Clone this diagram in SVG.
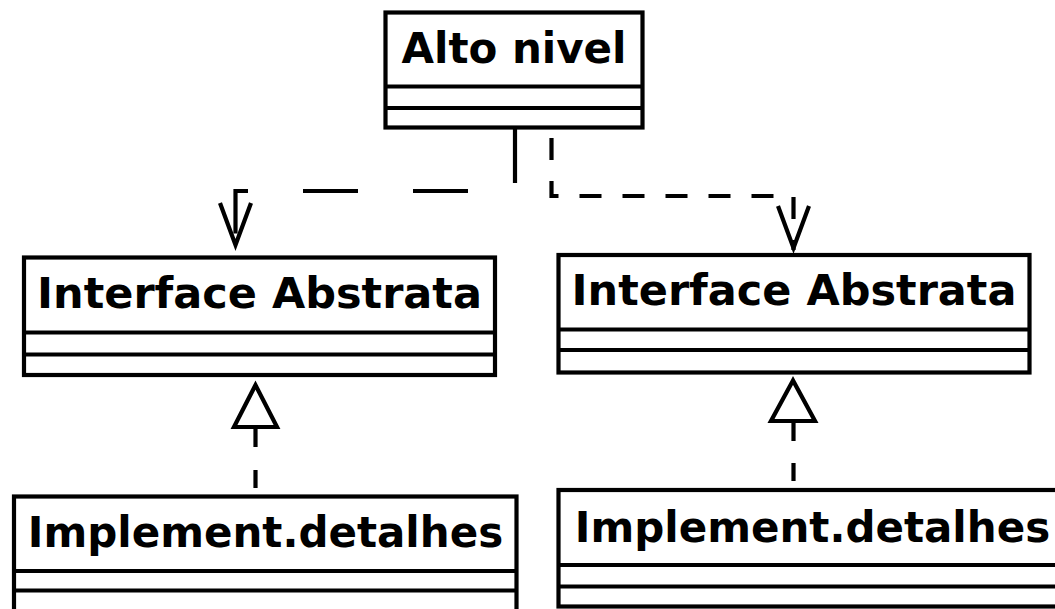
<svg xmlns="http://www.w3.org/2000/svg" width="1055" height="609" viewBox="0 0 1055 609">
  <defs>
    <style>
      .box { fill: #ffffff; stroke: #000000; stroke-width: 4.2; }
      .div { stroke: #000000; stroke-width: 4.2; fill: none; }
      .label { font-family: "DejaVu Sans", "Liberation Sans", sans-serif; font-weight: bold; fill: #000000; }
      .edge { fill: none; stroke: #000000; stroke-width: 4.2; }
      .tri { fill: #ffffff; stroke: #000000; stroke-width: 4.2; stroke-linejoin: miter; }
    </style>
    <!-- open "V" head for dependency arrows -->
    <marker id="openArrow" markerUnits="userSpaceOnUse" markerWidth="60" markerHeight="40" refX="0" refY="0" orient="auto" overflow="visible">
      <path d="M-44,-15.5 L-2,0 L-44,15.5" fill="none" stroke="#000000" stroke-width="4.2" stroke-linejoin="miter"/>
    </marker>
  </defs>

  <rect width="1055" height="609" fill="#ffffff"/>

  <!-- classes -->
  <g id="alto-nivel">
    <rect class="box" x="385.5" y="12.5" width="257" height="115"/>
    <line class="div" x1="385.5" y1="86.5" x2="642.5" y2="86.5"/>
    <line class="div" x1="385.5" y1="108" x2="642.5" y2="108"/>
    <text class="label" x="514" y="63" font-size="42" text-anchor="middle">Alto nivel</text>
  </g>

  <g id="interface-esq">
    <rect class="box" x="24" y="257.5" width="471" height="117.5"/>
    <line class="div" x1="24" y1="332.5" x2="495" y2="332.5"/>
    <line class="div" x1="24" y1="354.5" x2="495" y2="354.5"/>
    <text class="label" x="259.5" y="308" font-size="43" text-anchor="middle">Interface Abstrata</text>
  </g>

  <g id="interface-dir">
    <rect class="box" x="558.5" y="255" width="471" height="117.5"/>
    <line class="div" x1="558.5" y1="329.5" x2="1029.5" y2="329.5"/>
    <line class="div" x1="558.5" y1="350" x2="1029.5" y2="350"/>
    <text class="label" x="794" y="305" font-size="43" text-anchor="middle">Interface Abstrata</text>
  </g>

  <g id="impl-esq">
    <rect class="box" x="14" y="496.5" width="502.5" height="130"/>
    <line class="div" x1="14" y1="571" x2="516.5" y2="571"/>
    <line class="div" x1="14" y1="590.5" x2="516.5" y2="590.5"/>
    <text class="label" x="265.5" y="547" font-size="42" text-anchor="middle">Implement.detalhes</text>
  </g>

  <g id="impl-dir">
    <rect class="box" x="558.5" y="490" width="510" height="116.5"/>
    <line class="div" x1="558.5" y1="565" x2="1068.5" y2="565"/>
    <line class="div" x1="558.5" y1="586.5" x2="1068.5" y2="586.5"/>
    <text class="label" x="812.5" y="542" font-size="42" text-anchor="middle">Implement.detalhes</text>
  </g>

  <!-- relationships -->
  <g id="connectors">
    <!-- dependencies from the high-level class -->
    <path class="edge" d="M515,128 V191 H235.5 V247" stroke-dasharray="55 55" marker-end="url(#openArrow)"/>
    <path class="edge" d="M551.5,130 V196 H793.5 V250" stroke-dasharray="22 21" stroke-dashoffset="35" marker-end="url(#openArrow)"/>

    <!-- realizations -->
    <path class="edge" d="M255.5,429 V494" stroke-dasharray="18 23"/>
    <polygon class="tri" points="255.5,385 234,427 277,427"/>

    <path class="edge" d="M793.5,423 V488" stroke-dasharray="18 22"/>
    <polygon class="tri" points="793,380.5 771,421 815,421"/>
  </g>
</svg>
